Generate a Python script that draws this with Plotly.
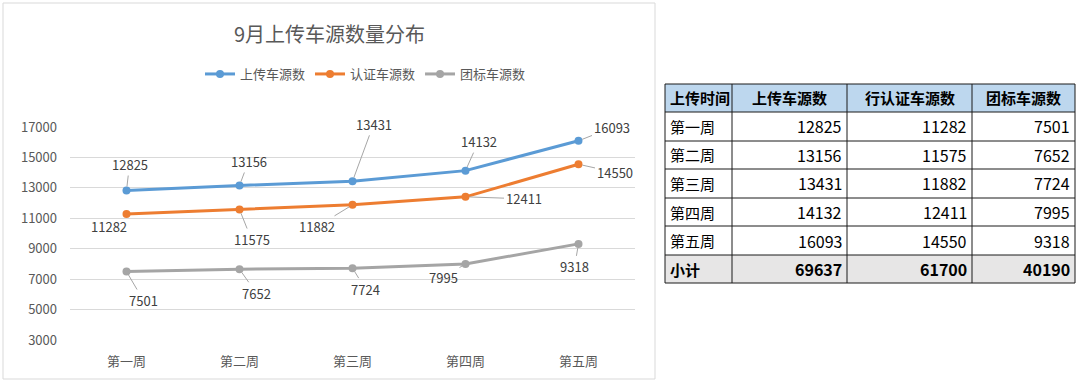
import plotly.graph_objects as go

# ---- data ----
weeks = ["第一周", "第二周", "第三周", "第四周", "第五周"]
upload = [12825, 13156, 13431, 14132, 16093]
certified = [11282, 11575, 11882, 12411, 14550]
group = [7501, 7652, 7724, 7995, 9318]
series_names = ["上传车源数", "认证车源数", "团标车源数"]
title_text = "9月上传车源数量分布"
y_ticks = [3000, 5000, 7000, 9000, 11000, 13000, 15000, 17000]

table_header = ["上传时间", "上传车源数", "行认证车源数", "团标车源数"]
total_label = "小计"

# ---- styles ----
W, H = 1080, 384
colors = ["#5B9BD5", "#ED7D31", "#A5A5A5"]
FONT = "Noto Sans CJK SC"
TXT = "#595959"

# label offsets (pixels) for data labels, per series
label_offsets = [
    [(3, -26), (9, -24), (21, -57), (13, -29), (33, -13)],
    [(-18, 12), (12, 30), (-36, 22), (58, 2), (36, 8)],
    [(17, 29), (17, 24), (13, 21), (-22, 13), (-4, 23)],
]

# table geometry (pixels)
col_edges = [665, 732, 847, 972, 1075]
row_edges = [84, 112, 141, 169, 198, 226, 255, 283]


def px_x(p):
    return p / W


def px_y(p):
    return 1 - p / H


fig = go.Figure()
all_series = [upload, certified, group]
for name, vals, col in zip(series_names, all_series, colors):
    fig.add_trace(go.Scatter(
        x=weeks, y=vals, name=name, mode="lines+markers",
        line=dict(color=col, width=3),
        marker=dict(color=col, size=8),
    ))

annotations = []
for vals, offs in zip(all_series, label_offsets):
    for wk, v, (ax, ay) in zip(weeks, vals, offs):
        annotations.append(dict(
            x=wk, y=v, xref="x", yref="y", text=str(v),
            showarrow=True, arrowhead=0, arrowwidth=1, arrowcolor="#A6A6A6",
            ax=ax, ay=ay, standoff=4,
            font=dict(family=FONT, size=13, color="#404040"),
        ))

# title
annotations.append(dict(
    x=px_x(329), y=px_y(33), xref="paper", yref="paper", text=title_text,
    showarrow=False, xanchor="center", yanchor="middle",
    font=dict(family=FONT, size=20, color=TXT),
))

shapes = [dict(
    type="rect", xref="paper", yref="paper",
    x0=px_x(3), x1=px_x(655), y0=px_y(379), y1=px_y(3),
    line=dict(color="#D9D9D9", width=1), fillcolor="rgba(0,0,0,0)",
)]

# ---- table (drawn with shapes + text) ----
sums = [sum(upload), sum(certified), sum(group)]
rows = [table_header]
for i, wk in enumerate(weeks):
    rows.append([wk, str(upload[i]), str(certified[i]), str(group[i])])
rows.append([total_label] + [str(s) for s in sums])

# fills
shapes.append(dict(type="rect", xref="paper", yref="paper", layer="below",
                   x0=px_x(col_edges[0]), x1=px_x(col_edges[-1]),
                   y0=px_y(row_edges[1]), y1=px_y(row_edges[0]),
                   fillcolor="#BDD7EE", line=dict(width=0)))
shapes.append(dict(type="rect", xref="paper", yref="paper", layer="below",
                   x0=px_x(col_edges[0]), x1=px_x(col_edges[-1]),
                   y0=px_y(row_edges[-1]), y1=px_y(row_edges[-2]),
                   fillcolor="#E7E6E6", line=dict(width=0)))
# grid lines
for yy in row_edges:
    shapes.append(dict(type="line", xref="paper", yref="paper",
                       x0=px_x(col_edges[0]), x1=px_x(col_edges[-1]),
                       y0=px_y(yy), y1=px_y(yy),
                       line=dict(color="#1a1a1a", width=1)))
for xx in col_edges:
    shapes.append(dict(type="line", xref="paper", yref="paper",
                       x0=px_x(xx), x1=px_x(xx),
                       y0=px_y(row_edges[0]), y1=px_y(row_edges[-1]),
                       line=dict(color="#1a1a1a", width=1)))

last = len(rows) - 1
for r, row in enumerate(rows):
    yc = (row_edges[r] + row_edges[r + 1]) / 2
    bold = (r == 0 or r == last)
    for c, txt in enumerate(row):
        is_num = txt.isdigit()
        if c == 0:
            xa, xp = "left", col_edges[0] + 3
        elif r == 0:
            xa, xp = "center", (col_edges[c] + col_edges[c + 1]) / 2
        else:
            xa, xp = "right", col_edges[c + 1] - 3
        annotations.append(dict(
            x=px_x(xp), y=px_y(yc), xref="paper", yref="paper",
            text=f"<b>{txt}</b>" if bold else txt,
            showarrow=False, xanchor=xa, yanchor="middle",
            font=dict(family=FONT, size=16 if is_num else 15, color="#000000"),
        ))

fig.update_layout(
    template="none",
    width=W, height=H,
    margin=dict(l=0, r=0, t=0, b=0, pad=0, autoexpand=False),
    paper_bgcolor="white", plot_bgcolor="white",
    showlegend=True,
    legend=dict(
        orientation="h", x=px_x(200), y=px_y(74), xanchor="left", yanchor="middle",
        font=dict(family=FONT, size=13, color=TXT),
        itemwidth=30, bgcolor="rgba(0,0,0,0)",
    ),
    xaxis=dict(
        domain=[px_x(70), px_x(635)], range=[-0.5, 4.5], type="category",
        showgrid=False, zeroline=False, showline=False, ticks="",
        tickfont=dict(family=FONT, size=13, color=TXT),
        ticklabelstandoff=12, automargin=False,
    ),
    yaxis=dict(
        domain=[px_y(340), px_y(127)], range=[3000, 17000],
        tickvals=y_ticks, tickformat="d",
        showgrid=True, gridcolor="#D9D9D9", gridwidth=1,
        zeroline=False, showline=False, ticks="",
        tickfont=dict(family=FONT, size=13, color=TXT),
        ticklabelstandoff=12, automargin=False,
    ),
    annotations=annotations,
    shapes=shapes,
)

fig.write_html(
    "out.html",
    config={"displayModeBar": False},
    post_script="document.body.style.margin='0px';document.body.style.overflow='hidden';",
)
